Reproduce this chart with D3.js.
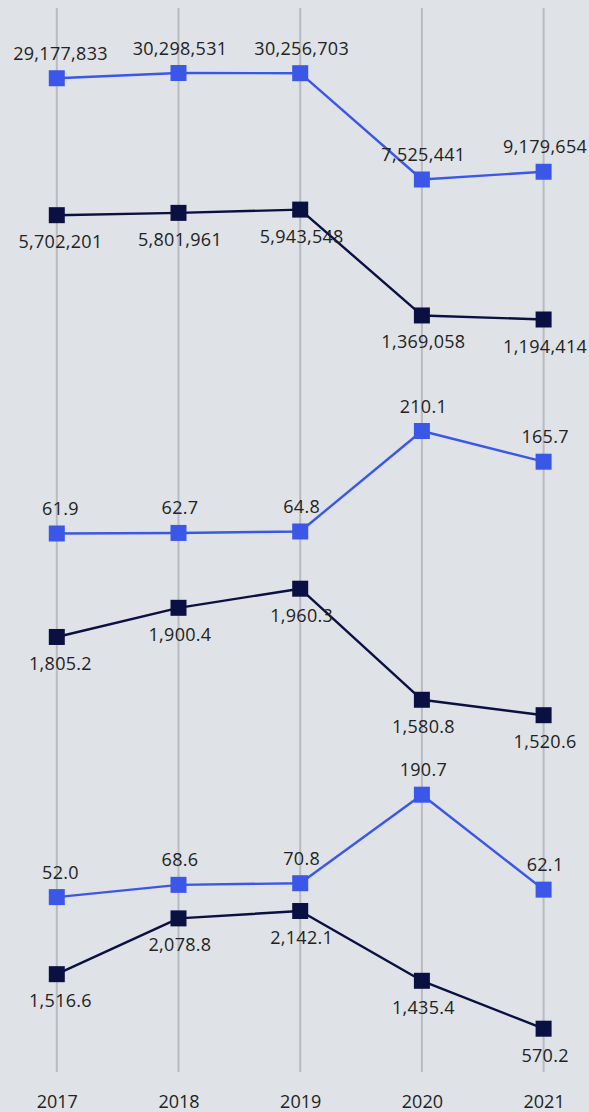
<!DOCTYPE html>
<html>
<head>
<meta charset="utf-8">
<script src="https://cdn.jsdelivr.net/npm/d3@7"></script>
<style>
  html, body { margin: 0; padding: 0; background: #dfe2e6; }
  svg { display: block; }
  text { font-family: "Open Sans", "Noto Sans", sans-serif; }
</style>
</head>
<body>
<div id="chart"></div>
<script>
// ---- data ----
const years = ["2017", "2018", "2019", "2020", "2021"];
const panel1Light = [29177833, 30298531, 30256703, 7525441, 9179654];
const panel1Dark  = [5702201, 5801961, 5943548, 1369058, 1194414];
const panel2Light = [61.9, 62.7, 64.8, 210.1, 165.7];
const panel2Dark  = [1805.2, 1900.4, 1960.3, 1580.8, 1520.6];
const panel3Light = [52.0, 68.6, 70.8, 190.7, 62.1];
const panel3Dark  = [1516.6, 2078.8, 2142.1, 1435.4, 570.2];

// ---- layout / style ----
const W = 589, H = 1112;
const LIGHT = "#3b57e8", DARK = "#0a1042";
const fmtInt = d3.format(",");
const fmt1 = d3.format(",.1f");

// each series: own vertical scale band (pixel range for [min, max])
const series = [
  { values: panel1Light, color: LIGHT, pos: "above", fmt: fmtInt, band: [179.5, 73.0], exp: 1 },
  { values: panel1Dark,  color: DARK,  pos: "below", fmt: fmtInt, band: [319.5, 209.6], exp: 1 },
  { values: panel2Light, color: LIGHT, pos: "above", fmt: fmt1,   band: [533.5, 431.0], exp: 1 },
  { values: panel2Dark,  color: DARK,  pos: "below", fmt: fmt1,   band: [715.2, 588.7], exp: 2 },
  { values: panel3Light, color: LIGHT, pos: "above", fmt: fmt1,   band: [897.1, 794.7], exp: 1 },
  { values: panel3Dark,  color: DARK,  pos: "below", fmt: fmt1,   band: [1028.7, 911.0], exp: 2 }
];

const svg = d3.select("#chart").append("svg")
  .attr("width", W).attr("height", H);

svg.append("rect").attr("width", W).attr("height", H).attr("fill", "#dfe2e6");

const x = d3.scalePoint().domain(years).range([56.8, 543.6]);

// vertical grid lines
const gridY = d3.scaleLinear().domain([0, 1]).range([8, 1072]);
svg.append("g").selectAll("line").data(years).join("line")
  .attr("x1", d => x(d)).attr("x2", d => x(d))
  .attr("y1", gridY(0)).attr("y2", gridY(1))
  .attr("stroke", "#b8bbc0").attr("stroke-width", 2);

// x axis labels
const xAxis = d3.axisBottom(x).tickSize(0).tickPadding(0);
const gx = svg.append("g").attr("transform", "translate(0,1107.5)").call(xAxis);
gx.select(".domain").remove();
gx.selectAll("text")
  .attr("font-family", "'Open Sans', sans-serif")
  .attr("font-size", 18)
  .attr("fill", "#222")
  .attr("dy", "0");

series.forEach(s => {
  const y = d3.scalePow().exponent(s.exp).domain(d3.extent(s.values)).range(s.band);
  const pts = s.values.map((v, i) => ({ year: years[i], v }));
  const line = d3.line().x(d => x(d.year)).y(d => y(d.v));
  const g = svg.append("g");
  g.append("path").datum(pts)
    .attr("d", line).attr("fill", "none")
    .attr("stroke", s.color).attr("stroke-width", 2.4)
    .attr("stroke-linejoin", "round");
  const m = 16;
  g.selectAll("rect").data(pts).join("rect")
    .attr("x", d => x(d.year) - m / 2)
    .attr("y", d => y(d.v) - m / 2)
    .attr("width", m).attr("height", m)
    .attr("fill", s.color);
  g.selectAll("text").data(pts).join("text")
    .attr("x", d => Math.max(x(d.year) + 1.5, 60.5))
    .attr("y", d => y(d.v) + (s.pos === "above" ? -18.5 : 33))
    .attr("text-anchor", "middle")
    .attr("font-size", 18)
    .attr("letter-spacing", 0.3)
    .attr("fill", "#222")
    .text(d => s.fmt(d.v));
});
</script>
</body>
</html>
